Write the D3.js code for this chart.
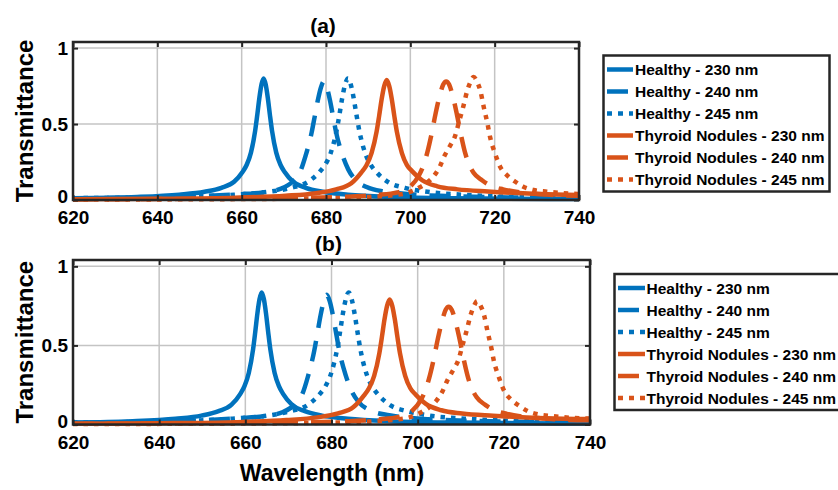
<!DOCTYPE html>
<html>
<head>
<meta charset="utf-8">
<script src="https://cdn.jsdelivr.net/npm/d3@7"></script>
<style>
  body { margin: 0; background: #fff; }
  text { font-family: "Liberation Sans", Arial, sans-serif; font-weight: bold; fill: #000; }
</style>
</head>
<body>
<div id="chart"></div>
<script>
// DATA: [wavelength nm, transmittance]
var xTicks = [620, 640, 660, 680, 700, 720, 740]
var yTicks = [0, 0.5, 1]
var seriesNames = ['Healthy - 230 nm', 'Healthy - 240 nm', 'Healthy - 245 nm',
    'Thyroid Nodules - 230 nm', 'Thyroid Nodules - 240 nm', 'Thyroid Nodules - 245 nm']

// panel (a)
var healthy230a = [[620,0.012],[635.2,0.02],[645.2,0.035],[651.2,0.054],[655.2,0.08],[658.2,0.12],[660.2,0.184],[661.2,0.232],[662.2,0.312],[663.2,0.456],[663.7,0.56],[664.2,0.672],[664.7,0.76],[665.2,0.80],[665.7,0.76],[666.2,0.672],[666.7,0.56],[667.2,0.456],[668.2,0.312],[669.2,0.232],[670.2,0.184],[672.2,0.12],[675.2,0.08],[679.2,0.054],[685.2,0.035],[695.2,0.02],[710.2,0.012],[740,0.006]]
var healthy240a = [[620,0.01],[636,0.016],[650.5,0.026],[659.2,0.038],[665,0.05],[669.35,0.075],[672.25,0.125],[673.7,0.175],[675.15,0.29],[676.6,0.445],[677.3,0.546],[678.05,0.655],[678.8,0.741],[679.5,0.78],[680.2,0.741],[680.95,0.655],[681.7,0.546],[682.4,0.445],[683.85,0.30],[685.3,0.20],[686.75,0.14],[689.65,0.085],[694,0.055],[699.8,0.038],[708.5,0.026],[723,0.017],[740,0.012]]
var healthy245a = [[620,0.012],[644.7,0.02],[658.2,0.035],[666.3,0.054],[671.7,0.08],[675.75,0.12],[678.45,0.184],[679.8,0.232],[681.15,0.312],[682.5,0.456],[683.18,0.56],[683.85,0.672],[684.53,0.76],[685.2,0.80],[685.88,0.76],[686.55,0.672],[687.23,0.56],[687.9,0.456],[689.25,0.312],[690.6,0.232],[691.95,0.184],[694.65,0.12],[698.7,0.08],[704.1,0.054],[712.2,0.035],[725.7,0.02],[740,0.014]]
var thyroid230a = [[620,0.005],[640,0.008],[658.4,0.015],[670.4,0.028],[677.6,0.045],[682.4,0.07],[686,0.11],[688.4,0.182],[689.6,0.229],[690.8,0.308],[692.0,0.45],[692.6,0.553],[693.2,0.664],[693.8,0.75],[694.4,0.79],[695.0,0.75],[695.6,0.664],[696.2,0.553],[696.8,0.45],[698.0,0.308],[699.2,0.229],[700.4,0.19],[702.8,0.13],[706.4,0.09],[711.2,0.07],[718.4,0.056],[730.4,0.04],[740,0.033]]
var thyroid240a = [[620,0.004],[650,0.008],[670,0.013],[685,0.022],[692,0.033],[697,0.05],[700,0.09],[702,0.16],[703,0.22],[704,0.31],[705,0.43],[706,0.57],[707,0.69],[707.8,0.76],[708.5,0.78],[709.2,0.76],[710,0.69],[711,0.57],[712,0.43],[713,0.31],[714,0.23],[715,0.18],[717,0.13],[719,0.095],[722,0.07],[727,0.048],[733,0.035],[740,0.028]]
var thyroid245a = [[620,0.003],[660,0.006],[680,0.012],[690,0.02],[696,0.032],[699,0.045],[702,0.08],[704,0.115],[705.5,0.155],[707,0.22],[708,0.285],[709.5,0.36],[710.6,0.42],[711.6,0.52],[712.6,0.62],[713.5,0.72],[714.3,0.78],[715,0.81],[715.8,0.78],[716.6,0.72],[717.4,0.613],[718.3,0.503],[718.9,0.416],[720.1,0.306],[721.3,0.219],[722.9,0.164],[724.9,0.12],[726.8,0.087],[729.2,0.066],[732.4,0.055],[736.3,0.045],[740,0.04]]

// panel (b)
var healthy230b = [[620,0.012],[633.8,0.021],[643.8,0.037],[649.8,0.056],[653.8,0.084],[656.8,0.125],[658.8,0.192],[659.8,0.242],[660.8,0.326],[661.8,0.476],[662.3,0.585],[662.8,0.702],[663.3,0.793],[663.8,0.835],[664.3,0.793],[664.8,0.702],[665.3,0.585],[665.8,0.476],[666.8,0.326],[667.8,0.242],[668.8,0.192],[670.8,0.125],[673.8,0.084],[677.8,0.056],[683.8,0.037],[693.8,0.021],[708.8,0.012],[740,0.006]]
var healthy240b = [[620,0.01],[635.4,0.017],[649.9,0.027],[658.6,0.04],[664.4,0.053],[668.75,0.079],[671.65,0.131],[673.1,0.184],[674.55,0.305],[676.0,0.467],[676.7,0.573],[677.45,0.688],[678.2,0.778],[678.9,0.82],[679.6,0.778],[680.35,0.688],[681.1,0.573],[681.8,0.467],[683.25,0.315],[684.7,0.21],[686.15,0.147],[689.05,0.089],[693.4,0.058],[699.2,0.04],[707.9,0.027],[722.4,0.018],[740,0.012]]
var healthy245b = [[620,0.012],[643.5,0.021],[657.0,0.037],[665.1,0.056],[670.5,0.084],[674.55,0.125],[677.25,0.192],[678.6,0.242],[679.95,0.326],[681.3,0.476],[681.98,0.585],[682.65,0.702],[683.33,0.793],[684.0,0.835],[684.68,0.793],[685.35,0.702],[686.03,0.585],[686.7,0.476],[688.05,0.326],[689.4,0.242],[690.75,0.192],[693.45,0.125],[697.5,0.084],[702.9,0.056],[711.0,0.037],[724.5,0.021],[740,0.015]]
var thyroid230b = [[620,0.005],[640,0.008],[657.5,0.015],[669.5,0.028],[676.7,0.045],[681.5,0.07],[685.1,0.11],[687.5,0.182],[688.7,0.229],[689.9,0.308],[691.1,0.45],[691.7,0.553],[692.3,0.664],[692.9,0.75],[693.5,0.79],[694.1,0.75],[694.7,0.664],[695.3,0.553],[695.9,0.45],[697.1,0.308],[698.3,0.229],[699.5,0.19],[701.9,0.13],[705.5,0.09],[710.3,0.07],[717.5,0.056],[729.5,0.04],[740,0.034]]
var thyroid240b = [[620,0.004],[650,0.008],[670,0.012],[683.7,0.021],[690.7,0.032],[695.7,0.048],[698.7,0.086],[700.7,0.153],[701.7,0.21],[702.7,0.296],[703.7,0.41],[704.7,0.544],[705.7,0.659],[706.5,0.726],[707.2,0.745],[707.9,0.726],[708.7,0.659],[709.7,0.544],[710.7,0.41],[711.7,0.296],[712.7,0.22],[713.7,0.172],[715.7,0.124],[717.7,0.091],[720.7,0.067],[725.7,0.046],[731.7,0.033],[740,0.026]]
var thyroid245b = [[620,0.003],[660,0.006],[680,0.012],[688.8,0.019],[694.8,0.031],[697.8,0.043],[700.8,0.077],[702.8,0.111],[704.3,0.149],[705.8,0.212],[706.8,0.274],[708.3,0.347],[709.4,0.404],[710.4,0.5],[711.4,0.597],[712.3,0.693],[713.1,0.751],[713.8,0.78],[714.6,0.751],[715.4,0.693],[716.2,0.59],[717.1,0.484],[717.7,0.401],[718.9,0.295],[720.1,0.211],[721.7,0.158],[723.7,0.116],[725.6,0.084],[728.0,0.064],[731.2,0.053],[735.1,0.043],[740,0.038]]

// STYLES PER SERIES (MATLAB DEFAULT BLUE / ORANGE)
var blue = '#0072BD', orange = '#D95319'
var styles = [
    {color: blue, dash: null},
    {color: blue, dash: '21,13'},
    {color: blue, dash: '4.5,6'},
    {color: orange, dash: null},
    {color: orange, dash: '21,13'},
    {color: orange, dash: '4.5,6'}
]

var W = 838, H = 490
var svg = d3.select('#chart').append('svg')
    .attr('width', W)
    .attr('height', H)

var panels = [
    {id: 'a', title: '(a)', left: 73, right: 579, top: 42, bottom: 200,
     series: [healthy230a, healthy240a, healthy245a, thyroid230a, thyroid240a, thyroid245a],
     legend: {x: 603.5, y: 55.5, w: 226, lineX0: 607, lineX1: 633, textX: 635}},
    {id: 'b', title: '(b)', left: 73, right: 590, top: 260, bottom: 424.5,
     series: [healthy230b, healthy240b, healthy245b, thyroid230b, thyroid240b, thyroid245b],
     legend: {x: 614.5, y: 274, w: 240, lineX0: 618, lineX1: 645, textX: 646.5}}
]

panels.forEach(function(p){
    var x = d3.scaleLinear().domain([620, 740]).range([p.left, p.right])
    var y = d3.scaleLinear().domain([0, 1.04]).range([p.bottom, p.top])
    var g = svg.append('g')

    // GRID
    g.selectAll('.vgrid').data(xTicks.slice(1, -1)).enter().append('line')
        .attr('x1', function(d){ return x(d) }).attr('x2', function(d){ return x(d) })
        .attr('y1', p.top).attr('y2', p.bottom)
        .attr('stroke', '#c4c4c4').attr('stroke-width', 1.5)
    g.selectAll('.hgrid').data(yTicks.slice(1)).enter().append('line')
        .attr('x1', p.left).attr('x2', p.right)
        .attr('y1', function(d){ return y(d) }).attr('y2', function(d){ return y(d) })
        .attr('stroke', '#c4c4c4').attr('stroke-width', 1.5)

    // CURVES
    svg.append('clipPath').attr('id', 'clip' + p.id).append('rect')
        .attr('x', p.left - 3).attr('y', p.top - 3)
        .attr('width', p.right - p.left + 6).attr('height', p.bottom - p.top + 6)
    var line = d3.line()
        .x(function(d){ return x(d[0]) })
        .y(function(d){ return y(d[1]) })
        .curve(d3.curveMonotoneX)
    g.append('g').attr('clip-path', 'url(#clip' + p.id + ')')
        .selectAll('path').data(p.series).enter().append('path')
        .attr('d', line)
        .attr('fill', 'none')
        .attr('stroke', function(d, i){ return styles[i].color })
        .attr('stroke-width', 4.5)
        .attr('stroke-dasharray', function(d, i){ return styles[i].dash })

    // AXES (TICKS POINT INWARD)
    var xAxis = g.append('g').attr('transform', 'translate(0,' + p.bottom + ')')
        .call(d3.axisBottom(x).tickValues(xTicks).tickSize(-5).tickPadding(11).tickFormat(d3.format('d')))
    var xTop = g.append('g').attr('transform', 'translate(0,' + p.top + ')')
        .call(d3.axisTop(x).tickValues(xTicks).tickSize(-5).tickFormat(''))
    var yAxis = g.append('g').attr('transform', 'translate(' + p.left + ',0)')
        .call(d3.axisLeft(y).tickValues(yTicks).tickSize(-5).tickPadding(5).tickFormat(function(d){ return d === 0.5 ? '0.5' : d3.format('d')(d) }))
    var yRight = g.append('g').attr('transform', 'translate(' + p.right + ',0)')
        .call(d3.axisRight(y).tickValues(yTicks).tickSize(-5).tickFormat(''))
    ;[xAxis, xTop, yAxis, yRight].forEach(function(a){
        a.select('.domain').remove()
        a.selectAll('line').attr('stroke', '#262626').attr('stroke-width', 2)
        a.selectAll('text').style('font-size', '19px').style('font-family', '"Liberation Sans", Arial, sans-serif').style('font-weight', 'bold').attr('fill', '#000')
    })
    xAxis.selectAll('text').attr('dy', '0.7em')
    yAxis.selectAll('text').attr('dy', function(d){ return d === 0 ? '0.15em' : '0.33em' })

    g.append('rect')
        .attr('x', p.left).attr('y', p.top)
        .attr('width', p.right - p.left).attr('height', p.bottom - p.top)
        .attr('fill', 'none').attr('stroke', '#262626').attr('stroke-width', 2.5)

    // TITLE + Y LABEL
    g.append('text').attr('x', (p.left + p.right) / 2 - 3).attr('y', p.top - 9)
        .attr('text-anchor', 'middle').style('font-size', '21px').text(p.title)
    g.append('text')
        .attr('transform', 'translate(33,' + ((p.top + p.bottom) / 2) + ') rotate(-90)')
        .attr('text-anchor', 'middle').style('font-size', '24px').text('Transmittance')

    // LEGEND
    var L = p.legend, rowH = 22
    g.append('rect').attr('x', L.x).attr('y', L.y).attr('width', L.w).attr('height', 136)
        .attr('fill', '#fff').attr('stroke', '#262626').attr('stroke-width', 2.5)
    var rows = g.selectAll('.leg').data(seriesNames).enter().append('g')
        .attr('transform', function(d, i){ return 'translate(0,' + (L.y + 14 + i * rowH) + ')' })
    rows.append('line')
        .attr('x1', L.lineX0).attr('x2', L.lineX1).attr('y1', 0).attr('y2', 0)
        .attr('stroke', function(d, i){ return styles[i].color })
        .attr('stroke-width', 4.5)
        .attr('stroke-dasharray', function(d, i){ return styles[i].dash ? (i % 3 === 1 ? '21,12' : '5,6') : null })
    rows.append('text').attr('x', L.textX).attr('dy', '0.36em')
        .style('font-size', '15.5px').text(function(d){ return d })
})

// X LABEL
svg.append('text').attr('x', 332).attr('y', 481)
    .attr('text-anchor', 'middle').style('font-size', '23px').text('Wavelength (nm)')
</script>
</body>
</html>
